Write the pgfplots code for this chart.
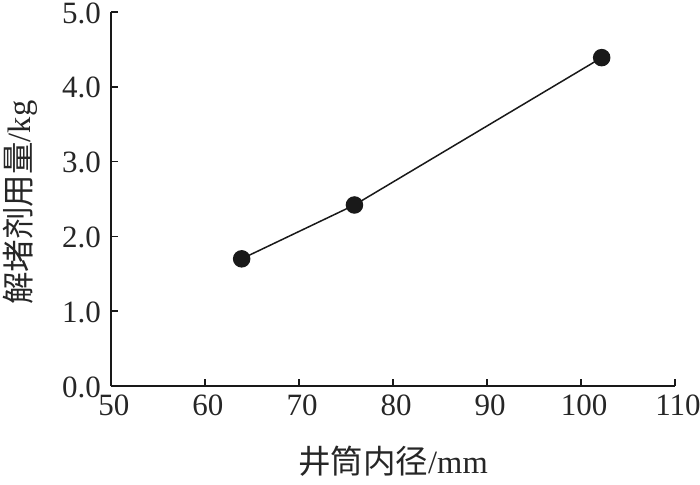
\documentclass[border=0pt]{standalone}
\usepackage{fontspec}
\setmainfont{Liberation Serif}
\newfontfamily\cjk{Noto Sans CJK SC}
\usepackage{pgfplots}
\pgfplotsset{compat=1.18}
\begin{document}
\begin{tikzpicture}
\begin{axis}[
  scale only axis, width=564pt, height=374pt,
  xmin=50, xmax=110, ymin=0, ymax=5,
  axis lines*=left,
  tick align=inside, major tick length=7pt,
  xtick={50,60,...,110}, ytick={0,1,...,5},
  /pgf/number format/assume math mode=true,
  yticklabel style={/pgf/number format/fixed,/pgf/number format/fixed zerofill,/pgf/number format/precision=1},
  tick label style={font=\fontsize{31}{31}\selectfont, text=black!85, inner sep=3pt},
  xticklabel style={yshift=-6pt, xshift=3pt},
  yticklabel style={xshift=-7pt, yshift=-1pt},
  label style={font=\fontsize{32.5}{32.5}\selectfont, text=black!85},
  xlabel={{\cjk 井筒内径}/mm},
  ylabel={{\cjk 解堵剂用量}/kg},
  xlabel style={at={(axis description cs:0.5,-0.20)}, anchor=center},
  ylabel style={at={(axis description cs:-0.16,0.49)}, anchor=center},
  axis line style={line width=1.5pt, black!90},
  every tick/.style={line width=1.5pt, black!90},
]
\addplot[black!90, line width=1.5pt, mark=*, mark size=8pt, mark options={fill=black!90}] coordinates {(63.9,1.70) (75.9,2.42) (102.2,4.39)};
\coordinate (O) at (rel axis cs:0,0);
\end{axis}
\pgfresetboundingbox
\path ([shift={(-111pt,-98pt)}]O) rectangle ([shift={(589pt,386pt)}]O);
\end{tikzpicture}
\end{document}
